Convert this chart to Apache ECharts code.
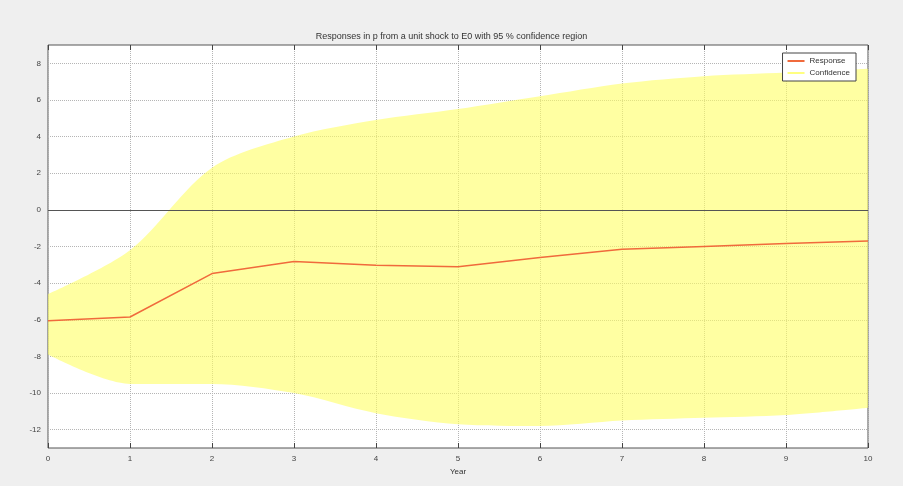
<!DOCTYPE html>
<html>
<head>
<meta charset="utf-8">
<script src="https://cdn.jsdelivr.net/npm/echarts@6.0.0/dist/echarts.min.js"></script>
<style>
  html, body { margin: 0; padding: 0; background: #efefef; }
  #chart { width: 903px; height: 486px; }
</style>
</head>
<body>
<div id="chart"></div>
<script>
  // years on the x axis
  const years = ['0', '1', '2', '3', '4', '5', '6', '7', '8', '9', '10'];
  // impulse response and 95% band
  const response = [-6.05, -5.85, -3.48, -2.82, -3.02, -3.11, -2.6, -2.15, -2.0, -1.84, -1.7];
  const upper = [-4.6, -2.2, 2.3, 4.0, 4.9, 5.5, 6.2, 6.9, 7.3, 7.5, 7.7];
  const lower = [-7.9, -9.5, -9.5, -10.0, -11.1, -11.7, -11.8, -11.5, -11.35, -11.2, -10.8];
  const yTicks = [-12, -10, -8, -6, -4, -2, 0, 2, 4, 6, 8];

  const font = 'Liberation Sans, Arial, sans-serif';
  const lineColor = '#f06a3c';

  const chart = echarts.init(document.getElementById('chart'));

  // band height on top of the lower edge
  const bandWidth = upper.map((u, i) => +(u - lower[i]).toFixed(3));

  const tickStyle = { inside: true, length: 5, lineStyle: { color: '#444', width: 1 } };

  const option = {
    backgroundColor: '#efefef',
    animation: false,
    title: {
      text: 'Responses in p from a unit shock to E0 with 95 % confidence region',
      left: 'center',
      top: 27,
      textStyle: { fontFamily: font, fontSize: 9, fontWeight: 'normal', color: '#333' }
    },
    legend: {
      orient: 'vertical',
      right: 47,
      top: 53,
      itemWidth: 17,
      itemHeight: 2,
      itemGap: 4,
      padding: [4, 6, 4, 5],
      backgroundColor: '#fff',
      borderColor: '#444',
      borderWidth: 1,
      borderRadius: 0,
      textStyle: { fontFamily: font, fontSize: 8, color: '#333' },
      data: [
        { name: 'Response', icon: 'rect' },
        { name: 'Confidence', icon: 'rect' }
      ]
    },
    grid: {
      left: 48, right: 35, top: 45, bottom: 38,
      show: true,
      backgroundColor: '#fff',
      borderColor: '#555',
      borderWidth: 1
    },
    xAxis: [
      {
        type: 'category',
        data: years,
        boundaryGap: false,
        name: 'Year',
        nameLocation: 'middle',
        nameGap: 20,
        nameTextStyle: { fontFamily: font, fontSize: 8, color: '#333' },
        axisLine: { show: false, onZero: false },
        axisTick: tickStyle,
        axisLabel: { fontFamily: font, fontSize: 8, color: '#444', margin: 7 },
        splitLine: { show: true, lineStyle: { color: '#b5b5b5', type: 'dotted' } }
      },
      {
        type: 'category',
        data: years,
        boundaryGap: false,
        position: 'top',
        axisLine: { show: false, onZero: false },
        axisTick: tickStyle,
        axisLabel: { show: false },
        splitLine: { show: false }
      }
    ],
    yAxis: [
      {
        type: 'value',
        min: -13,
        max: 9,
        axisLine: { show: false, onZero: false },
        axisTick: Object.assign({ customValues: yTicks }, tickStyle),
        axisLabel: { fontFamily: font, fontSize: 8, color: '#444', margin: 7, customValues: yTicks },
        splitLine: { show: true, lineStyle: { color: '#b5b5b5', type: 'dotted' } }
      },
      {
        type: 'value',
        min: -13,
        max: 9,
        position: 'right',
        axisLine: { show: false, onZero: false },
        axisTick: Object.assign({ customValues: yTicks }, tickStyle),
        axisLabel: { show: false, customValues: yTicks },
        splitLine: { show: false }
      }
    ],
    series: [
      {
        name: 'lowerEdge',
        type: 'line',
        stack: 'band',
        stackStrategy: 'all',
        data: lower,
        smooth: 0.3,
        symbol: 'none',
        silent: true,
        lineStyle: { opacity: 0 }
      },
      {
        name: 'Confidence',
        type: 'line',
        stack: 'band',
        stackStrategy: 'all',
        data: bandWidth,
        smooth: 0.3,
        symbol: 'none',
        silent: true,
        itemStyle: { color: '#ffff80' },
        lineStyle: { opacity: 0 },
        areaStyle: { color: 'rgba(255,255,100,0.6)', opacity: 1 }
      },
      {
        name: 'Response',
        type: 'line',
        data: response,
        symbol: 'none',
        z: 5,
        itemStyle: { color: lineColor },
        lineStyle: { color: lineColor, width: 1.5 },
        markLine: {
          silent: true,
          symbol: 'none',
          label: { show: false },
          lineStyle: { color: '#555', type: 'solid', width: 1 },
          data: [{ yAxis: 0 }]
        }
      }
    ]
  };

  chart.setOption(option);
  window.addEventListener('resize', () => {
    chart.resize();
  });
</script>
</body>
</html>
